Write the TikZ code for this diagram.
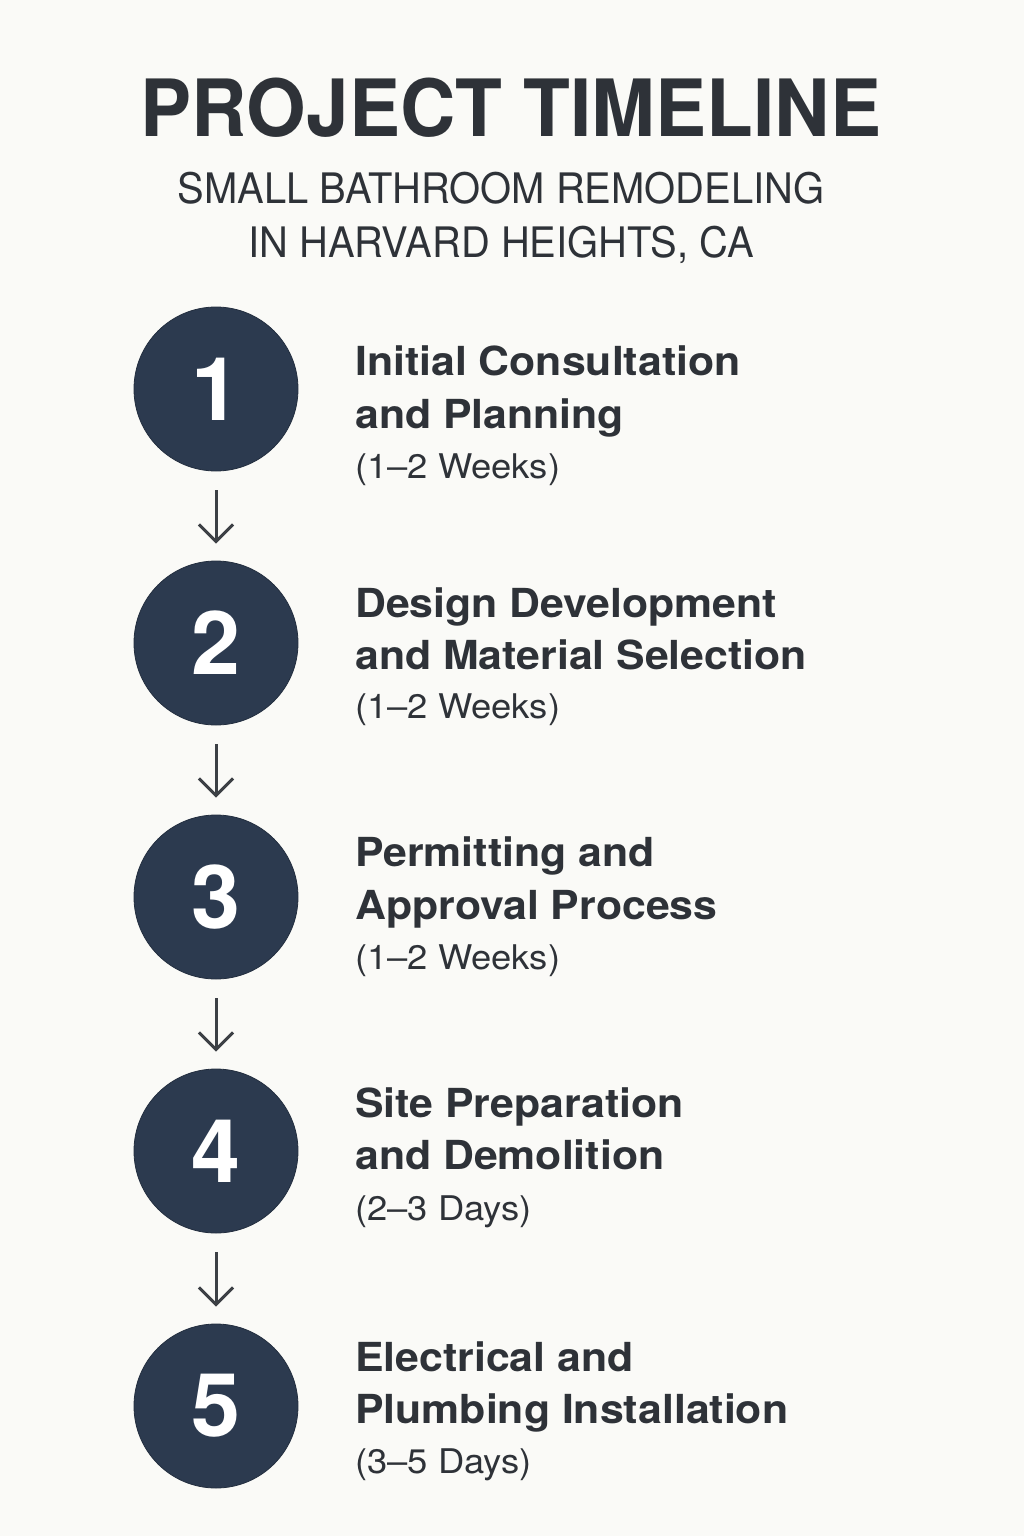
\documentclass[tikz,border=0pt]{standalone}
\usepackage{fontspec}
\setmainfont{TeX Gyre Heros}
\usetikzlibrary{arrows.meta}
\definecolor{bgc}{HTML}{FAFAF7}
\definecolor{navy}{HTML}{2C3A4F}
\definecolor{ink}{HTML}{2E3238}
\definecolor{arrc}{HTML}{3C4045}
\tikzset{
  stepcircle/.style={circle, fill=navy, draw=navy!80!black, line width=0.8pt, minimum size=164pt, inner sep=0pt, text=white, font=\bfseries\fontsize{88}{88}\selectfont},
  headtxt/.style={anchor=base west, inner sep=0pt, text=ink, font=\bfseries\fontsize{40}{40}\selectfont},
  durtxt/.style={anchor=base west, inner sep=0pt, text=ink, font=\fontsize{34}{34}\selectfont},
  arr/.style={draw=arrc, line width=3pt, -{Straight Barb[length=17pt,width=34pt,line width=3pt]}, shorten <=19pt, shorten >=17pt},
}
\newcommand{\hx}[1]{\scalebox{1.07}[1]{#1}}
\newcommand{\dx}[1]{\scalebox{1.07}[1]{#1}}
\begin{document}
\begin{tikzpicture}[x=1pt,y=-1pt]
\path[fill=bgc] (0,0) rectangle (1024,1536);
\useasboundingbox (0,0) rectangle (1024,1536);
\node[anchor=base, inner sep=0pt, text=ink, font=\bfseries\fontsize{79}{79}\selectfont] (title) at (511,137) {\scalebox{0.97}[1]{PROJECT TIMELINE}};
\node[anchor=base, inner sep=0pt, text=ink, font=\fontsize{42}{42}\selectfont] (sub1) at (501,203) {\scalebox{0.95}[1]{SMALL BATHROOM REMODELING}};
\node[anchor=base, inner sep=0pt, text=ink, font=\fontsize{42}{42}\selectfont] (sub2) at (501,257) {\scalebox{0.95}[1]{IN HARVARD HEIGHTS, CA}};
% steps
\foreach \i/\cy/\ya/\yb/\yc/\la/\lb/\dur in {
 1/389/375/428/478/Initial Consultation/and Planning/(1–2 Weeks),
 2/643/617/669/718/Design Development/and Material Selection/(1–2 Weeks),
 3/897/866/919/969/Permitting and/Approval Process/(1–2 Weeks),
 4/1151/1117/1169/1220/Site Preparation/and Demolition/(2–3 Days),
 5/1406/1371/1423/1473/Electrical and/Plumbing Installation/(3–5 Days)}{
  \node[stepcircle] (c\i) at (216,\cy) {\i};
  \node[headtxt] (ha\i) at (355,\ya) {\hx{\la}};
  \node[headtxt] (hb\i) at (355,\yb) {\hx{\lb}};
  \node[durtxt] (d\i) at (355,\yc) {\dx{\dur}};
}
\foreach \a/\b in {1/2,2/3,3/4,4/5}{
  \draw[arr] (c\a) -- (c\b);
}
\end{tikzpicture}
\end{document}
